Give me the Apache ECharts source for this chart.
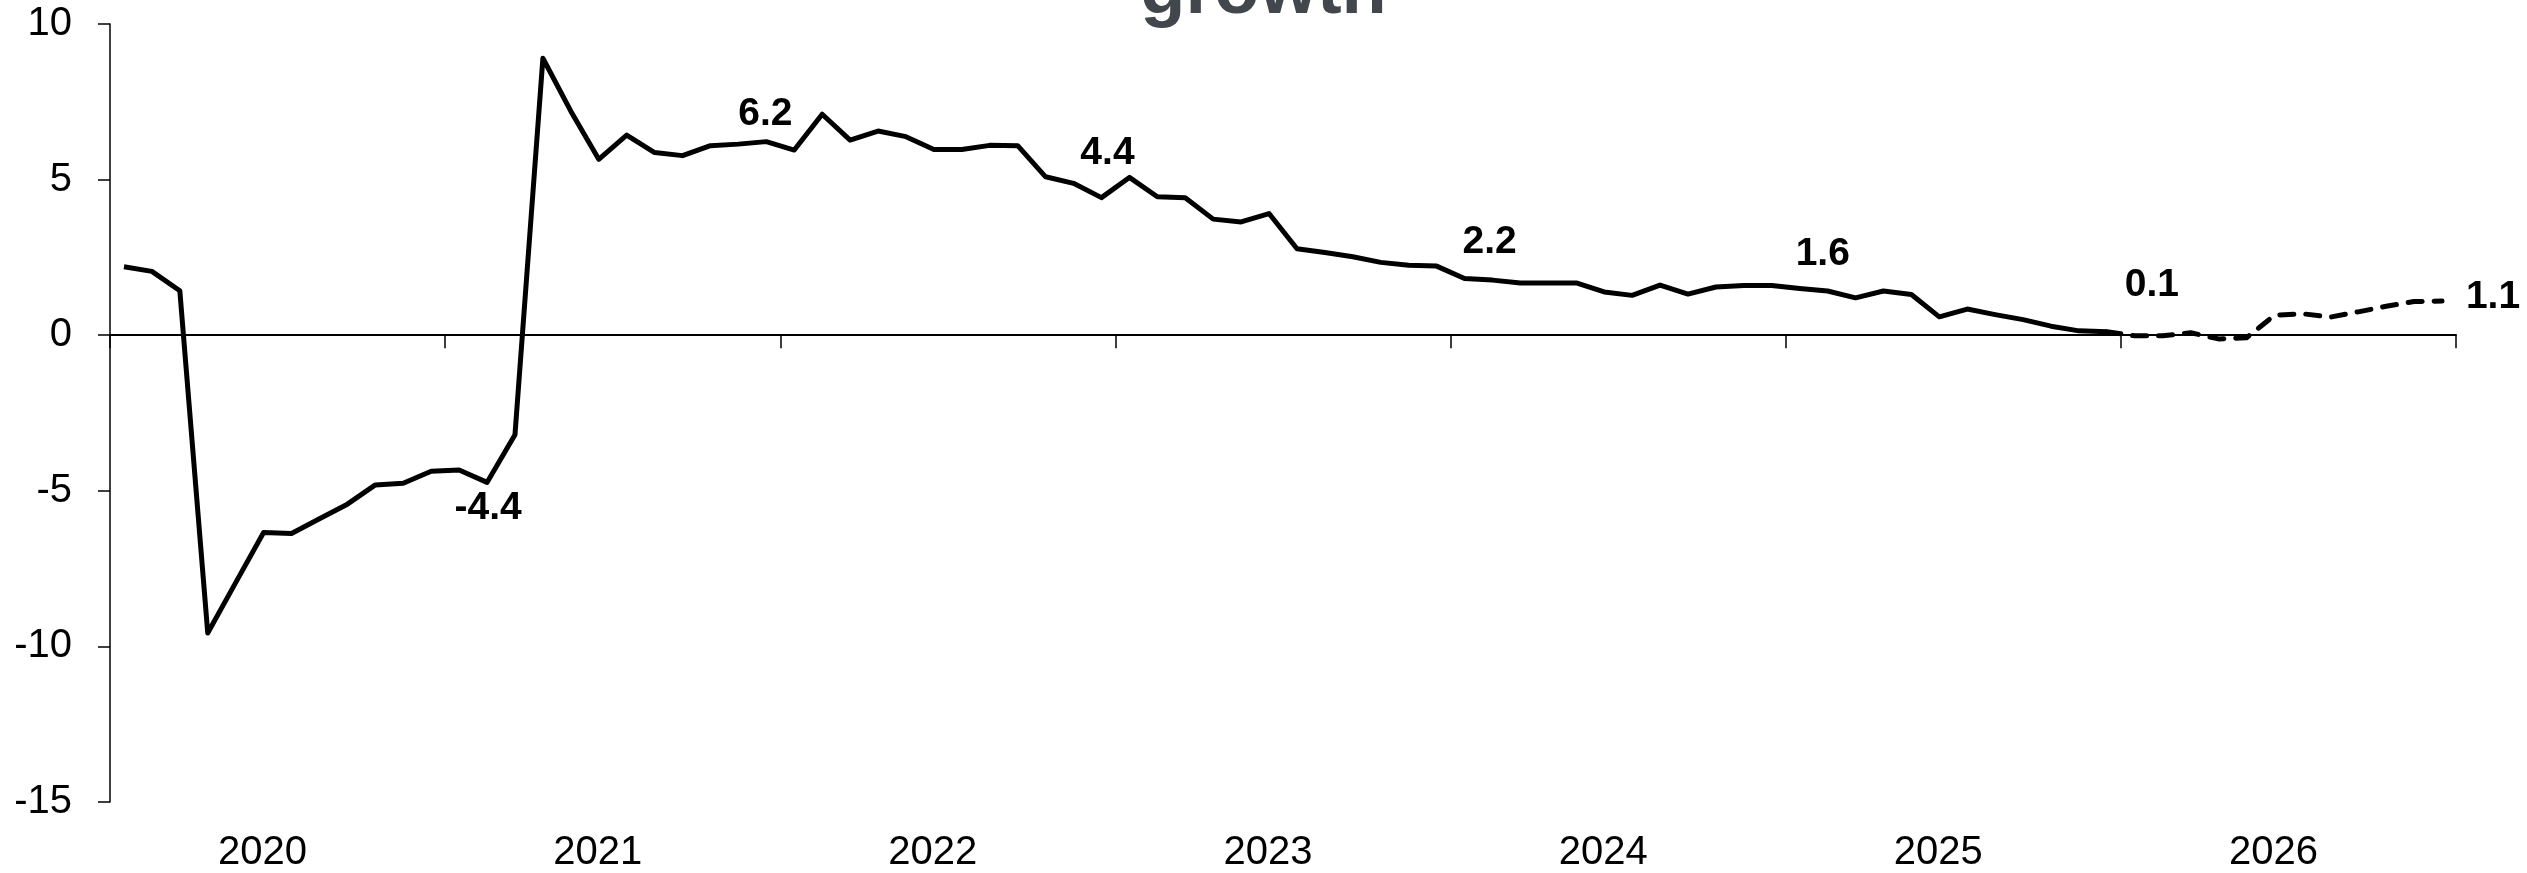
<!DOCTYPE html>
<html>
<head>
<meta charset="utf-8">
<script src="https://cdn.jsdelivr.net/npm/echarts@6/dist/echarts.min.js"></script>
<style>
  html, body { margin: 0; padding: 0; background: #fff; }
  #chart { width: 2527px; height: 873px; }
</style>
</head>
<body>
<div id="chart"></div>
<script>
// ---- Data (year-on-year growth, %, monthly) ----
const years = ['2020', '2021', '2022', '2023', '2024', '2025', '2026'];
const growth2020 = [2.2, 2.05, 1.43, -9.57, -7.95, -6.34, -6.37, -5.9, -5.43, -4.81, -4.76, -4.37];
const growth2021 = [-4.33, -4.73, -3.2, 8.9, 7.2, 5.65, 6.43, 5.87, 5.77, 6.09, 6.14, 6.22];
const growth2022 = [5.95, 7.1, 6.27, 6.56, 6.38, 5.97, 5.97, 6.1, 6.09, 5.09, 4.88, 4.42];
const growth2023 = [5.07, 4.45, 4.42, 3.73, 3.64, 3.91, 2.78, 2.66, 2.52, 2.34, 2.25, 2.22];
const growth2024 = [1.82, 1.77, 1.68, 1.68, 1.68, 1.39, 1.28, 1.61, 1.32, 1.55, 1.6, 1.6];
const growth2025 = [1.5, 1.42, 1.2, 1.42, 1.31, 0.59, 0.84, 0.66, 0.5, 0.29, 0.14, 0.11];
const forecast2026 = [-0.02, -0.02, 0.08, -0.12, -0.08, 0.64, 0.69, 0.58, 0.75, 0.93, 1.08, 1.1];
// months whose value is annotated (each December)
const labelMonths = ['2020-12', '2021-12', '2022-12', '2023-12', '2024-12', '2025-12', '2026-12'];

// ---- Build categories / series ----
const months = [];
years.forEach(y => { for (let m = 1; m <= 12; m++) months.push(y + '-' + String(m).padStart(2, '0')); });
const actual = [].concat(growth2020, growth2021, growth2022, growth2023, growth2024, growth2025);
const all = actual.concat(forecast2026);
const actualSeries = actual.concat(forecast2026.map(() => null));
const forecastSeries = actual.map((v, i) => (i === actual.length - 1 ? v : null)).concat(forecast2026);

// label offsets (style only)
const labelOffsets = [[57, 37], [-1, -27], [6, -44], [53, -24], [51, -31], [45, -47], [51, -4]];

const FONT = '"Liberation Sans", Arial, Helvetica, sans-serif';

const chart = echarts.init(document.getElementById('chart'), null, { renderer: 'canvas' });
chart.setOption({
  animation: false,
  backgroundColor: '#ffffff',
  title: {
    text: 'growth',
    left: 'center',
    top: -49,
    textStyle: { fontSize: 74, fontWeight: 'bold', color: '#42474d', fontFamily: FONT, lineHeight: 74 }
  },
  grid: { left: 110, right: 71, top: 24, bottom: 71, containLabel: false },
  xAxis: [
    {
      type: 'category',
      data: months,
      boundaryGap: true,
      axisLine: { show: true, onZero: true, lineStyle: { color: '#000', width: 2 } },
      axisTick: { show: true, interval: 11, length: 13, lineStyle: { color: '#000', width: 1.5 } },
      axisLabel: { show: false },
      splitLine: { show: false }
    },
    {
      type: 'category',
      data: years,
      position: 'bottom',
      boundaryGap: true,
      axisLine: { show: false, onZero: false },
      axisTick: { show: false },
      axisLabel: { show: true, fontSize: 40, color: '#000', fontFamily: FONT, margin: 31, padding: [0, 30, 0, 0] },
      splitLine: { show: false }
    }
  ],
  yAxis: {
    type: 'value',
    min: -15,
    max: 10,
    interval: 5,
    axisLine: { show: true, lineStyle: { color: '#000', width: 1.5 } },
    axisTick: { show: true, length: 12, lineStyle: { color: '#000', width: 1.5 } },
    axisLabel: { fontSize: 40, color: '#000', fontFamily: FONT, margin: 38 },
    splitLine: { show: false }
  },
  series: [
    {
      type: 'line',
      name: 'actual',
      data: actualSeries,
      symbol: 'none',
      lineStyle: { color: '#000', width: 5, join: 'round' },
      z: 3
    },
    {
      type: 'line',
      name: 'forecast',
      data: forecastSeries,
      symbol: 'none',
      lineStyle: { color: '#000', width: 5, type: [14, 12], cap: 'round', join: 'round' },
      z: 3
    },
    {
      type: 'scatter',
      name: 'labels',
      silent: true,
      symbol: 'circle',
      symbolSize: 0.5,
      itemStyle: { color: '#000', opacity: 1 },
      z: 4,
      data: labelMonths.map((m, k) => {
        const idx = months.indexOf(m);
        return { value: [idx, all[idx]], label: { offset: labelOffsets[k] } };
      }),
      label: {
        show: true,
        position: 'inside',
        formatter: p => p.value[1].toFixed(1),
        fontSize: 39,
        fontWeight: 'bold',
        color: '#000',
        opacity: 1,
        textBorderWidth: 0,
        fontFamily: FONT
      }
    }
  ]
});
</script>
</body>
</html>
